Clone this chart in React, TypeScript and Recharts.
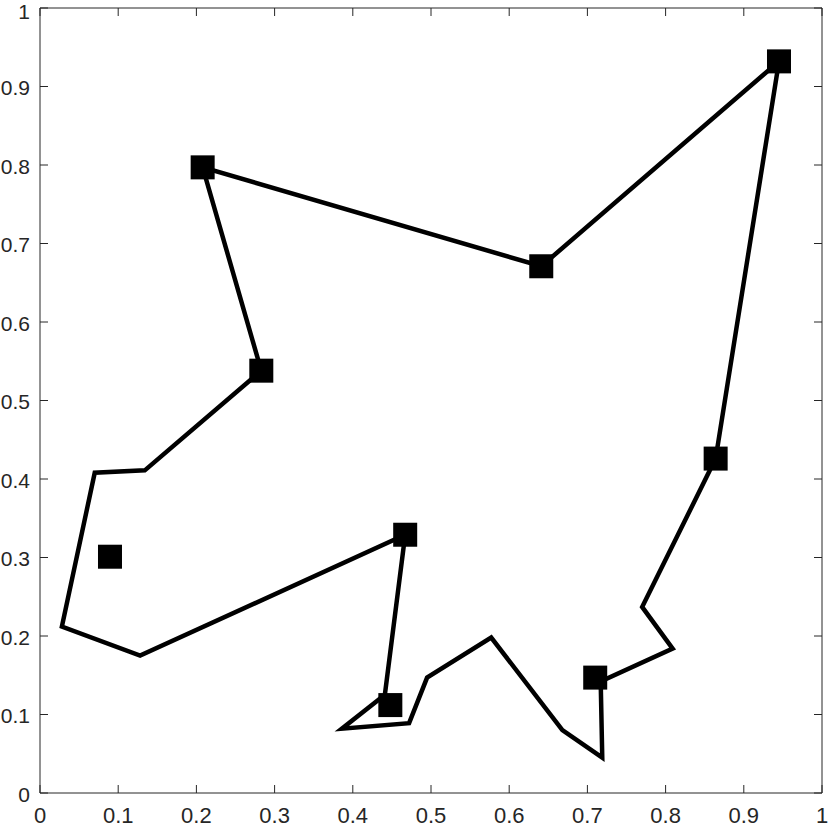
import React from "react";
import { ScatterChart, Scatter, XAxis, YAxis } from "recharts";

// closed route (path vertices, in order)
const pathX = [0.945, 0.641, 0.208, 0.283, 0.134, 0.070, 0.028, 0.128, 0.467, 0.441, 0.386, 0.472, 0.495, 0.577, 0.668, 0.719, 0.717, 0.809, 0.770, 0.864, 0.945];
const pathY = [0.932, 0.671, 0.797, 0.538, 0.411, 0.408, 0.212, 0.175, 0.329, 0.125, 0.082, 0.089, 0.147, 0.198, 0.080, 0.045, 0.142, 0.184, 0.237, 0.426, 0.932];

// square markers
const markerX = [0.945, 0.641, 0.208, 0.283, 0.0895, 0.467, 0.448, 0.710, 0.864];
const markerY = [0.932, 0.671, 0.797, 0.538, 0.301, 0.329, 0.112, 0.147, 0.426];

// ticks
const tickValues = [0, 0.1, 0.2, 0.3, 0.4, 0.5, 0.6, 0.7, 0.8, 0.9, 1];
const tickLabels = ["0", "0.1", "0.2", "0.3", "0.4", "0.5", "0.6", "0.7", "0.8", "0.9", "1"];

const pathData = pathX.map((x, i) => ({ x, y: pathY[i] }));
const markerData = markerX.map((x, i) => ({ x, y: markerY[i] }));

const AX = "#262626";
const FONT = "'Liberation Sans', Arial, Helvetica, sans-serif";
const FS = 22;
const TL = 8;

const labelOf = (v: number) => {
  const i = tickValues.findIndex((t) => Math.abs(t - v) < 1e-9);
  return i >= 0 ? tickLabels[i] : String(v);
};

const BottomTick = (p: any) => (
  <g>
    <line x1={p.x} x2={p.x} y1={p.y} y2={p.y - TL} stroke={AX} strokeWidth={1} />
    <text x={p.x} y={p.y + 30} textAnchor="middle" fill={AX} fontSize={FS} fontFamily={FONT}>
      {labelOf(p.payload.value)}
    </text>
  </g>
);

const TopTick = (p: any) => (
  <line x1={p.x} x2={p.x} y1={p.y} y2={p.y + TL} stroke={AX} strokeWidth={1} />
);

const LeftTick = (p: any) => {
  const v = p.payload.value;
  return (
    <g>
      <line x1={p.x} x2={p.x + TL} y1={p.y} y2={p.y} stroke={AX} strokeWidth={1} />
      <text x={p.x - 10} y={p.y + (v >= 1 ? 11 : 8.5)} textAnchor="end" fill={AX} fontSize={21} fontFamily={FONT}>
        {labelOf(v)}
      </text>
    </g>
  );
};

const RightTick = (p: any) => (
  <line x1={p.x} x2={p.x - TL} y1={p.y} y2={p.y} stroke={AX} strokeWidth={1} />
);

const Square = (p: any) => {
  const s = 24;
  return <rect x={p.cx - s / 2} y={p.cy - s / 2} width={s} height={s} fill="#000" />;
};

const NoShape = () => <g />;

export default function App() {
  return (
    <div style={{ position: "absolute", left: 0, top: 0, width: 830, height: 828, background: "#fff" }}>
      <ScatterChart width={830} height={828} margin={{ top: 7, right: 7, bottom: 0, left: 0 }}>
        <XAxis
          xAxisId="b"
          type="number"
          dataKey="x"
          domain={[0, 1]}
          ticks={tickValues}
          interval={0}
          allowDataOverflow
          orientation="bottom"
          height={35}
          tickSize={0}
          tickMargin={0}
          tickLine={false}
          axisLine={{ stroke: AX, strokeWidth: 1 }}
          tick={<BottomTick />}
        />
        <XAxis
          xAxisId="t"
          type="number"
          dataKey="x"
          domain={[0, 1]}
          ticks={tickValues}
          interval={0}
          allowDataOverflow
          orientation="top"
          height={1}
          tickSize={0}
          tickMargin={0}
          tickLine={false}
          axisLine={{ stroke: AX, strokeWidth: 1 }}
          tick={<TopTick />}
        />
        <YAxis
          yAxisId="l"
          type="number"
          dataKey="y"
          domain={[0, 1]}
          ticks={tickValues}
          interval={0}
          allowDataOverflow
          orientation="left"
          width={40}
          tickSize={0}
          tickMargin={0}
          tickLine={false}
          axisLine={{ stroke: AX, strokeWidth: 1 }}
          tick={<LeftTick />}
        />
        <YAxis
          yAxisId="r"
          type="number"
          dataKey="y"
          domain={[0, 1]}
          ticks={tickValues}
          interval={0}
          allowDataOverflow
          orientation="right"
          width={1}
          tickSize={0}
          tickMargin={0}
          tickLine={false}
          axisLine={{ stroke: AX, strokeWidth: 1 }}
          tick={<RightTick />}
        />
        <Scatter
          xAxisId="b"
          yAxisId="l"
          data={pathData}
          line={{ stroke: "#000", strokeWidth: 4.5, strokeLinejoin: "miter" }}
          lineType="joint"
          shape={NoShape}
          isAnimationActive={false}
        />
        <Scatter
          xAxisId="b"
          yAxisId="l"
          data={markerData}
          shape={Square}
          isAnimationActive={false}
        />
      </ScatterChart>
    </div>
  );
}
